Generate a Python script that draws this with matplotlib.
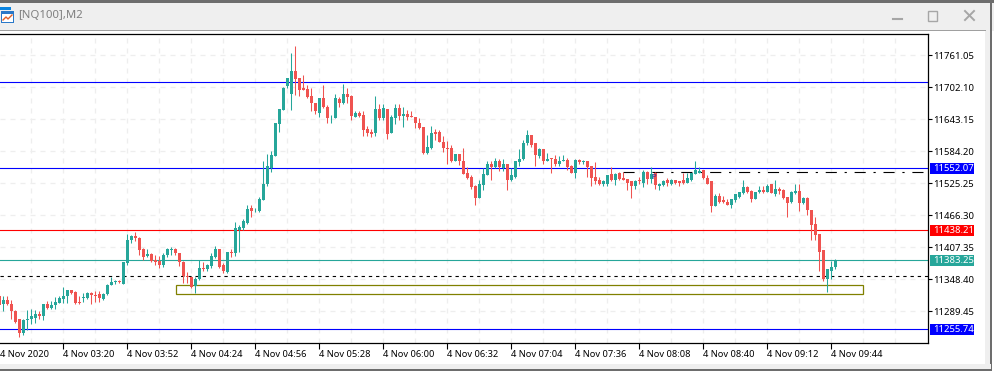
import numpy as np
import matplotlib
matplotlib.use('Agg')
import matplotlib.pyplot as plt
from matplotlib.patches import Rectangle
from matplotlib.lines import Line2D
from matplotlib.transforms import Affine2D

plt.rcParams['font.family'] = ['Noto Sans', 'DejaVu Sans']

W, H = 995, 375

# one bar every 2 minutes, first entry is the clipped bar at the left edge
opens = [11317,11303,11309,11303,11289,11274,11248,11272,11274,11277,11283,11281,11303,11295,11301,11305,
         11311,11317,11328,11325,11306,11313,11314,11323,11319,11320,11312,11320,11338,11342,11345,11340,
         11377,11421,11428,11424,11404,11390,11395,11384,11382,11375,11392,11401,11404,11397,11380,11354,
         11352,11335,11348,11368,11366,11372,11388,11404,11374,11361,11399,11397,11439,11443,11452,11480,
         11473,11473,11493,11524,11553,11574,11633,11659,11703,11690,11732,11719,11701,11699,11686,11673,
         11655,11681,11666,11646,11644,11680,11673,11690,11686,11647,11655,11651,11625,11620,11618,11662,
         11644,11662,11618,11644,11664,11649,11653,11649,11647,11636,11629,11581,11590,11620,11620,11601,
         11590,11589,11566,11579,11566,11544,11537,11519,11498,11522,11539,11561,11554,11565,11552,11561,
         11530,11537,11563,11570,11598,11613,11598,11574,11587,11566,11572,11570,11561,11565,11568,11557,
         11544,11568,11563,11566,11557,11537,11530,11524,11524,11541,11530,11543,11535,11533,11528,11519,
         11530,11526,11546,11533,11544,11520,11522,11530,11524,11530,11528,11530,11526,11530,11541,11544,
         11550,11535,11528,11482,11502,11493,11491,11485,11493,11500,11507,11518,11511,11496,11508,11513,
         11509,11524,11504,11515,11513,11500,11491,11506,11511,11489,11498,11476,11449,11432,11401,11349,
         11364,11371]
highs = [11320,11317,11317,11309,11292,11275,11275,11292,11294,11292,11290,11303,11307,11307,11315,11317,
         11334,11329,11329,11326,11317,11323,11324,11325,11326,11326,11323,11339,11352,11347,11347,11379,
         11431,11430,11434,11425,11406,11404,11396,11392,11390,11396,11405,11407,11406,11397,11381,11361,
         11352,11352,11383,11380,11376,11396,11409,11404,11378,11398,11404,11454,11447,11458,11485,11484,
         11480,11500,11566,11578,11585,11635,11662,11702,11719,11765,11778,11719,11725,11706,11700,11673,
         11681,11705,11668,11651,11690,11684,11708,11701,11688,11658,11657,11658,11631,11625,11686,11670,
         11671,11662,11651,11670,11671,11666,11660,11657,11647,11644,11629,11614,11631,11624,11622,11611,
         11603,11596,11579,11579,11590,11555,11539,11522,11530,11553,11566,11566,11572,11570,11570,11561,
         11553,11565,11587,11605,11622,11613,11598,11589,11587,11581,11572,11576,11574,11576,11572,11559,
         11570,11570,11568,11566,11557,11563,11537,11530,11539,11554,11543,11546,11546,11533,11528,11530,
         11537,11550,11548,11554,11546,11526,11530,11535,11533,11531,11528,11543,11543,11544,11565,11554,
         11550,11539,11528,11504,11506,11502,11495,11496,11504,11509,11530,11520,11513,11509,11520,11519,
         11524,11524,11530,11517,11515,11500,11511,11524,11524,11500,11500,11476,11463,11432,11401,11366,
         11382,11386]
lows = [11298,11289,11301,11275,11267,11241,11245,11255,11266,11267,11274,11272,11294,11294,11294,11304,
        11304,11305,11320,11303,11303,11306,11312,11303,11306,11306,11310,11318,11337,11340,11341,11340,
        11375,11414,11419,11393,11384,11388,11380,11375,11369,11370,11388,11393,11393,11372,11341,11341,
        11331,11323,11347,11363,11363,11369,11387,11369,11360,11360,11388,11391,11399,11439,11450,11463,
        11471,11471,11493,11520,11546,11574,11619,11659,11700,11660,11688,11686,11696,11682,11657,11653,
        11646,11663,11635,11636,11644,11666,11671,11673,11642,11646,11647,11611,11611,11609,11612,11642,
        11642,11607,11618,11633,11642,11629,11642,11646,11627,11625,11579,11579,11587,11605,11601,11583,
        11561,11563,11565,11559,11541,11533,11515,11485,11498,11513,11539,11531,11552,11548,11548,11513,
        11528,11535,11557,11568,11596,11592,11557,11572,11561,11565,11544,11557,11557,11565,11550,11543,
        11535,11561,11561,11537,11520,11524,11522,11520,11519,11528,11522,11530,11530,11513,11498,11515,
        11524,11517,11524,11526,11515,11513,11520,11520,11522,11524,11520,11524,11526,11528,11541,11544,
        11533,11524,11472,11482,11489,11489,11484,11480,11491,11498,11505,11507,11490,11495,11506,11506,
        11508,11506,11502,11504,11496,11463,11489,11504,11474,11487,11467,11421,11421,11364,11345,11325,
        11349,11367]
closes = [11301,11309,11302,11289,11269,11248,11273,11275,11280,11284,11281,11303,11295,11301,11306,11314,
          11317,11328,11323,11305,11305,11315,11323,11318,11317,11314,11321,11338,11343,11344,11342,11379,
          11420,11428,11424,11401,11388,11395,11381,11379,11375,11393,11404,11404,11397,11380,11353,11352,
          11333,11349,11368,11366,11374,11390,11404,11371,11363,11398,11396,11443,11445,11456,11478,11473,
          11474,11495,11524,11557,11576,11635,11662,11701,11719,11732,11717,11697,11697,11684,11673,11657,
          11681,11666,11644,11647,11681,11673,11690,11684,11649,11655,11649,11622,11618,11616,11662,11644,
          11664,11616,11646,11664,11649,11653,11647,11647,11635,11627,11581,11592,11618,11616,11601,11589,
          11587,11565,11579,11565,11542,11535,11517,11498,11524,11542,11561,11554,11565,11554,11561,11530,
          11539,11565,11570,11598,11614,11596,11576,11587,11566,11570,11569,11561,11566,11568,11555,11544,
          11568,11563,11566,11554,11535,11528,11524,11528,11539,11530,11541,11533,11531,11526,11519,11528,
          11528,11546,11533,11541,11522,11524,11528,11526,11530,11526,11526,11526,11535,11543,11550,11548,
          11535,11524,11482,11502,11491,11491,11485,11495,11504,11509,11518,11509,11496,11509,11513,11508,
          11519,11506,11515,11511,11498,11489,11508,11511,11489,11498,11476,11447,11430,11399,11349,11366,
          11371,11382]
first_bar = -1

price_ticks = [11761.05, 11702.10, 11643.15, 11584.20, 11525.25, 11466.30, 11407.35, 11348.40, 11289.45]
time_labels = ['4 Nov 03:20', '4 Nov 03:52', '4 Nov 04:24', '4 Nov 04:56', '4 Nov 05:28', '4 Nov 06:00',
               '4 Nov 06:32', '4 Nov 07:04', '4 Nov 07:36', '4 Nov 08:08', '4 Nov 08:40', '4 Nov 09:12',
               '4 Nov 09:44']
levels = [11710.5, 11552.07, 11438.21, 11383.25, 11255.74]
level_colors = ['#0000ff', '#0000ff', '#ff0000', '#26a69a', '#0000ff']
tags = [11552.07, 11438.21, 11383.25, 11255.74]
tag_colors = ['#0000ff', '#ff0000', '#26a69a', '#0000ff']
dashed_level = 11354
trend_level = 11545.6
zone_low, zone_high = 11320, 11336.5

UP = '#26a69a'
DOWN = '#ef5350'
FONT = 6.7


def px_rect(fig, x, y, w, h, color):
    fig.add_artist(Rectangle((x / W, 1 - (y + h) / H), w / W, h / H, transform=fig.transFigure,
                             facecolor=color, edgecolor='none'))


def px_line(fig, xs, ys, color, lw=1.0):
    fig.add_artist(Line2D([x / W for x in xs], [1 - y / H for y in ys], transform=fig.transFigure,
                          color=color, lw=lw))


fig = plt.figure(figsize=(W / 100, H / 100), dpi=100, facecolor='white')

# window frame
px_rect(fig, 0, 0, W, 2.5, '#6d6d6d')
px_rect(fig, 0, 2.5, W, 28, '#efefef')
px_rect(fig, 0, 30, 986, 1.2, '#a0a0a0')
px_rect(fig, 985, 31, 6, 338, '#efefef')
px_rect(fig, 990.5, 2.5, 1.5, 367, '#6d6d6d')
px_rect(fig, 0, 364, 991, 5, '#efefef')
px_rect(fig, 0, 369, 992, 1.5, '#6d6d6d')
fig.text(18.5 / W, 1 - 16 / H, '[NQ100],M2', color='#7f7f7f', fontsize=8.2, va='center', ha='left')
# icon
px_rect(fig, 0, 7, 11, 3, '#0a84e0')
px_rect(fig, 1, 11, 13, 12, '#2a78c8')
px_rect(fig, 2, 14, 11, 8, '#ffffff')
px_line(fig, [3, 6, 8, 12], [20, 17, 19, 15], '#e0602a', 1)
# window buttons
px_line(fig, [893, 902], [18.5, 18.5], '#a6a6a6', 1.5)
fig.add_artist(Rectangle((928.5 / W, 1 - 20.5 / H), 9 / W, 9 / H, transform=fig.transFigure,
                         facecolor='none', edgecolor='#a6a6a6', lw=1))
px_line(fig, [965, 974], [11, 20], '#a6a6a6', 1.4)
px_line(fig, [974, 965], [11, 20], '#a6a6a6', 1.4)

# chart area, one bar = 4 px
ax = fig.add_axes([0, 1 - 343 / H, 928 / W, 309 / H])
ax.set_xlim(-0.83, 231.17)
y_lo, y_hi = 11863 - 1.842 * 343.4, 11863 - 1.842 * 34.4
ax.set_ylim(y_lo, y_hi)
ax.set_facecolor('white')
ax.spines['left'].set_visible(False)
for s in ['top', 'right', 'bottom']:
    ax.spines[s].set_linewidth(0.9)
    ax.spines[s].set_color('black')

idx = np.arange(len(opens)) + first_bar
o, h, l, c = map(np.array, (opens, highs, lows, closes))
cols = np.where(c >= o, UP, DOWN)
ax.vlines(idx, l, h, colors=cols, lw=0.75, zorder=3)
ax.bar(idx, np.abs(c - o), bottom=np.minimum(o, c), width=0.75, color=cols, linewidth=0, zorder=3)

# grid
ax.set_yticks(price_ticks)
ax.set_yticklabels([f'{v:.2f}' for v in price_ticks])
ax.yaxis.tick_right()
vgrid = np.arange(7, 231, 8)
ax.vlines(vgrid, y_lo, y_hi, colors='#eeeeee', lw=0.9, linestyles=(0, (4, 4)), zorder=1)
ax.hlines(price_ticks, -0.83, 231.17, colors='#eeeeee', lw=0.9, linestyles=(0, (4, 4)), zorder=1)

xticks = np.arange(15, 15 + 16 * len(time_labels), 16)
ax.set_xticks(xticks)
ax.set_xticklabels(time_labels, ha='left')
ax.tick_params(axis='x', length=4, width=0.8, pad=0.8, labelsize=FONT, direction='out')
ax.tick_params(axis='y', length=3.2, width=0.8, pad=0.5, labelsize=6.85, direction='out')
ax.text(-0.95, -0.023, '4 Nov 2020', transform=ax.get_xaxis_transform(), fontsize=FONT, va='top', ha='left',
        clip_on=False)
for lab in ax.get_yticklabels():
    lab.set_transform(lab.get_transform() + Affine2D().translate(0, -1))

# levels and objects
for v, col in zip(levels, level_colors):
    ax.axhline(v, color=col, lw=0.8, zorder=2)
ax.axhline(dashed_level, color='black', lw=0.8, ls=(0, (3, 3.5)), zorder=2)
ax.hlines(trend_level, 155, 230, color='black', lw=0.8, linestyles=(0, (10, 7, 2, 7)), zorder=2)
ax.add_patch(Rectangle((43.1, zone_low), 215 - 43.1, zone_high - zone_low, facecolor='none',
                       edgecolor='#808000', lw=0.9, zorder=2))
ax.text(162.5, 11535, 'P', color='#2030a0', fontsize=5.5, ha='center', va='center', zorder=4)

# price tags right of the axis
tr = ax.get_yaxis_transform()
for v, col in zip(tags, tag_colors):
    ax.add_patch(Rectangle((930 / 928, v - 5.5 * 1.842), 44 / 928, 11 * 1.842, transform=tr, facecolor=col,
                           edgecolor='none', clip_on=False, zorder=5))
    ax.text(933 / 928, v, f'{v:.2f}', transform=tr, color='white', fontsize=6.85, va='center', ha='left',
            clip_on=False, zorder=6)

fig.savefig('out.png', dpi=100)
